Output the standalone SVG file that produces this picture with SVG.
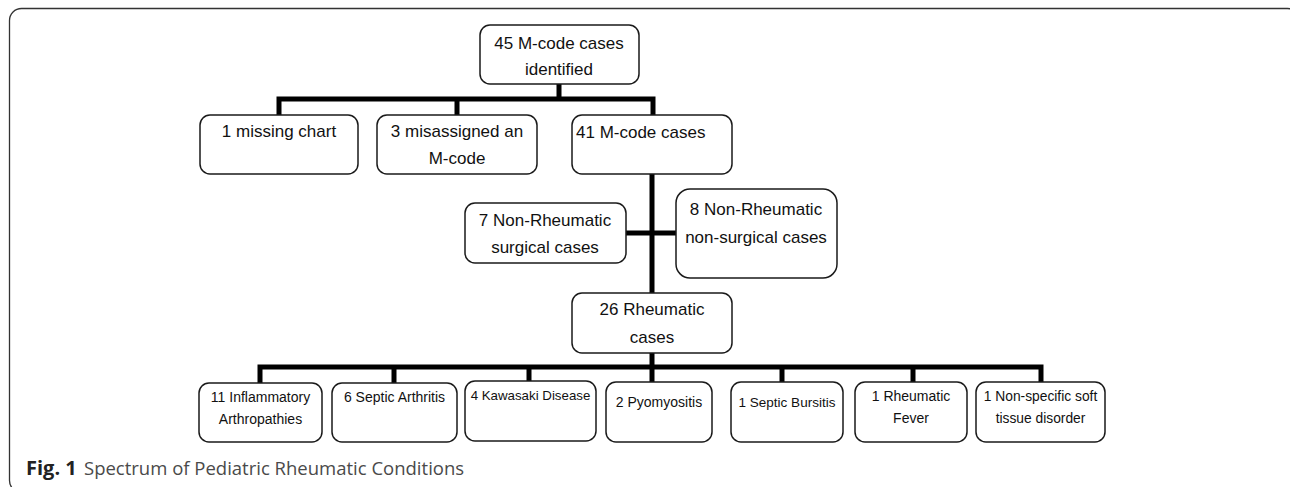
<svg xmlns="http://www.w3.org/2000/svg" width="1290" height="487" viewBox="0 0 1290 487">
<style>
.box{fill:#fff;stroke:#1a1a1a;stroke-width:1.5}
.t{font-family:"Liberation Sans",Arial,sans-serif;font-size:17px;fill:#111;text-anchor:middle}
.s{font-family:"Liberation Sans",Arial,sans-serif;font-size:14px;fill:#111;text-anchor:middle}
.c{fill:none;stroke:#000;stroke-width:5;stroke-linecap:square}
.cap{font-family:"Open Sans","Liberation Sans",sans-serif;font-size:18.5px;fill:#4a4a4a}
</style>
<rect x="9.5" y="8.5" width="1290" height="484" rx="12" fill="none" stroke="#333" stroke-width="1.3"/>
<g id="connectors">
<path class="c" d="M559 84V99M279 99H653M279 99V114M457 99V114M653 99V114"/>
<path class="c" d="M652 175V292M627 233H675"/>
<path class="c" d="M652 354V381M260 367H1041M260 367V381M394 367V381M529 367V381M782 367V381M913 367V381M1041 367V381"/>
</g>
<g id="n45"><rect class="box" x="480" y="25" width="159" height="59" rx="10"/><text class="t" x="559" y="49">45 M-code cases</text><text class="t" x="559" y="75">identified</text></g>
<g id="nmissing"><rect class="box" x="200" y="115" width="158" height="59" rx="10"/><text class="t" x="279" y="137">1 missing chart</text></g>
<g id="nmis"><rect class="box" x="377" y="115" width="160" height="59" rx="10"/><text class="t" x="457" y="137">3 misassigned an</text><text class="t" x="457" y="164">M-code</text></g>
<g id="n41"><rect class="box" x="572" y="115" width="160" height="59" rx="10"/><text class="t" x="576" y="138" style="text-anchor:start">41 M-code cases</text></g>
<g id="n7"><rect class="box" x="465" y="203" width="161" height="60" rx="10"/><text class="t" x="545" y="226">7 Non-Rheumatic</text><text class="t" x="545" y="253">surgical cases</text></g>
<g id="n8"><rect class="box" x="676" y="189" width="161" height="89" rx="14"/><text class="t" x="756" y="215">8 Non-Rheumatic</text><text class="t" x="756" y="243">non-surgical cases</text></g>
<g id="n26"><rect class="box" x="572" y="293" width="160" height="60" rx="10"/><text class="t" x="652" y="315">26 Rheumatic</text><text class="t" x="652" y="343">cases</text></g>
<g id="n11"><rect class="box" x="199" y="383" width="123" height="59" rx="10"/><text class="s" x="260.5" y="402">11 Inflammatory</text><text class="s" x="260.5" y="424">Arthropathies</text></g>
<g id="n6"><rect class="box" x="332" y="383" width="125" height="59" rx="10"/><text class="s" x="394.5" y="402">6 Septic Arthritis</text></g>
<g id="n4"><rect class="box" x="465" y="381" width="131" height="60" rx="10"/><text class="s" x="530.5" y="400" style="font-size:13.3px">4 Kawasaki Disease</text></g>
<g id="n2"><rect class="box" x="606" y="382" width="106" height="60" rx="10"/><text class="s" x="659" y="407">2 Pyomyositis</text></g>
<g id="nsb"><rect class="box" x="731" y="382" width="112" height="60" rx="10"/><text class="s" x="787" y="407" style="font-size:13.5px">1 Septic Bursitis</text></g>
<g id="nrf"><rect class="box" x="855" y="382" width="112" height="60" rx="10"/><text class="s" x="911" y="401">1 Rheumatic</text><text class="s" x="911" y="423">Fever</text></g>
<g id="nns"><rect class="box" x="976" y="382" width="129" height="60" rx="10"/><text class="s" x="1040.5" y="401" style="font-size:13.8px">1 Non-specific soft</text><text class="s" x="1040.5" y="423" style="font-size:13.8px">tissue disorder</text></g>
<text class="cap" x="26" y="475"><tspan font-weight="bold" fill="#222" style="font-size:20px">Fig. 1</tspan><tspan x="84">Spectrum of Pediatric Rheumatic Conditions</tspan></text>
</svg>
